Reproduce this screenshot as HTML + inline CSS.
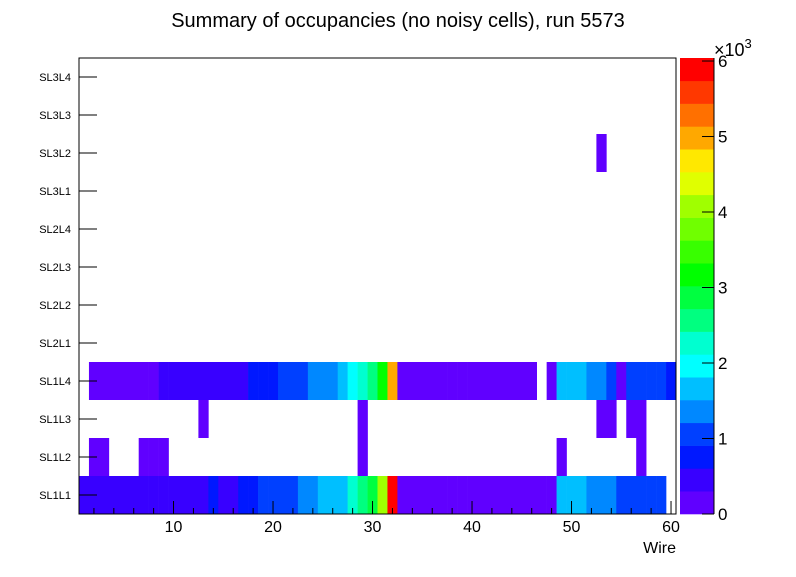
<!DOCTYPE html>
<html><head><meta charset="utf-8"><style>
body{margin:0;background:#fff;}
svg text{font-family:"Liberation Sans",sans-serif;}
</style></head><body>
<svg id="c" width="796" height="572" xmlns="http://www.w3.org/2000/svg">
<rect width="796" height="572" fill="#fff"/>
<text x="398" y="27" font-size="20" text-anchor="middle">Summary of occupancies (no noisy cells), run 5573</text>
<g id="cells"></g>
<g id="axes"></g>
<g id="pal"></g>
</svg>
<script>
const rowLabels=["SL1L1","SL1L2","SL1L3","SL1L4","SL2L1","SL2L2","SL2L3","SL2L4","SL3L1","SL3L2","SL3L3","SL3L4"];
const xTicks=[10,20,30,40,50,60];
const zTicks=[0,1,2,3,4,5,6];
const sl1l1=[500,500,500,500,500,500,500,500,500,500,500,500,500,800,500,500,800,800,1100,1100,1100,1100,1400,1400,1700,1700,1700,2300,2600,2900,4050,5900,200,200,200,200,200,200,200,200,200,200,200,200,200,200,200,200,1700,1700,1700,1400,1400,1400,1100,1100,1100,1100,1100,0];
const sl1l2=[0,200,200,0,0,0,200,200,200,0,0,0,0,0,0,0,0,0,0,0,0,0,0,0,0,0,0,0,200,0,0,0,0,0,0,0,0,0,0,0,0,0,0,0,0,0,0,0,200,0,0,0,0,0,0,0,200,0,0,0];
const sl1l3=[0,0,0,0,0,0,0,0,0,0,0,0,200,0,0,0,0,0,0,0,0,0,0,0,0,0,0,0,200,0,0,0,0,0,0,0,0,0,0,0,0,0,0,0,0,0,0,0,0,0,0,0,200,200,0,200,200,0,0,0];
const sl1l4=[0,200,200,200,200,200,200,200,500,500,500,500,500,500,500,500,500,800,800,800,1100,1100,1100,1400,1400,1400,1700,2000,2300,2600,3200,5000,200,200,200,200,200,200,200,200,200,200,200,200,200,200,0,200,1700,1700,1700,1400,1400,1100,200,1100,1100,1100,1100,800];
const sl3l2=[0,0,0,0,0,0,0,0,0,0,0,0,0,0,0,0,0,0,0,0,0,0,0,0,0,0,0,0,0,0,0,0,0,0,0,0,0,0,0,0,0,0,0,0,0,0,0,0,0,0,0,0,200,0,0,0,0,0,0,0];
const rowData={SL1L1:sl1l1,SL1L2:sl1l2,SL1L3:sl1l3,SL1L4:sl1l4,SL3L2:sl3l2};
const palette=["#6000ff","#3800ff","#0018ff","#0040ff","#0088ff","#00bfff","#00ffff","#00ffd0","#00ff80","#00ff40","#00ff00","#38ff00","#70ff00","#a0ff00","#e0ff00","#ffe800","#ffa800","#ff7000","#ff3800","#ff0000"];
const zMax=6040;
const X0=79,X1=676,Y0=58,Y1=514,xMin=0.5,xMax=60.5;
const NS="http://www.w3.org/2000/svg";
function xs(v){return X0+(v-xMin)/(xMax-xMin)*(X1-X0);}
function ys(i){return Y1-i*(Y1-Y0)/rowLabels.length;}
function zs(v){return Y1-v/zMax*(Y1-Y0);}
function mk(t,a,p){const e=document.createElementNS(NS,t);for(const k in a)e.setAttribute(k,a[k]);p.appendChild(e);return e;}
const cells=document.getElementById('cells'),axes=document.getElementById('axes'),pal=document.getElementById('pal');
rowLabels.forEach((lab,ri)=>{
  const d=rowData[lab];if(!d)return;
  d.forEach((v,wi)=>{
    if(v<=0)return;
    const lvl=Math.min(palette.length-1,Math.floor(v/zMax*palette.length));
    const w=wi+1;
    const r=mk('rect',{x:xs(w-0.5),y:ys(ri+1),width:xs(w+0.5)-xs(w-0.5)+0.3,height:ys(ri)-ys(ri+1),fill:palette[lvl]},cells);
    
    
  });
});
const fr=mk('rect',{x:X0,y:Y0,width:X1-X0,height:Y1-Y0,fill:'none',stroke:'#000','stroke-width':1},axes);


rowLabels.forEach((lab,ri)=>{
  const yc=(ys(ri)+ys(ri+1))/2;
  mk('line',{x1:X0,x2:X0+18,y1:yc,y2:yc,stroke:'#000'},axes);
  const t=mk('text',{x:71,y:yc+4,'font-size':11,'text-anchor':'end'},axes);
  t.textContent=lab;
  
  
});
for(let w=2;w<=60;w+=2){
  const major=xTicks.includes(w);
  mk('line',{x1:xs(w),x2:xs(w),y1:Y1,y2:Y1-(major?13:6),stroke:'#000'},axes);
}
xTicks.forEach(v=>{
  const t=mk('text',{x:xs(v),y:532,'font-size':16,'text-anchor':'middle'},axes);
  t.textContent=v;
  
  
});
const xt=mk('text',{x:676,y:553,'font-size':16,'text-anchor':'end'},axes);
xt.textContent='Wire';


palette.forEach((c,i)=>{
  const r=mk('rect',{x:680,y:zs((i+1)*zMax/palette.length),width:34,height:zs(i*zMax/palette.length)-zs((i+1)*zMax/palette.length)+0.3,fill:c},pal);
  
  
});
mk('line',{x1:714,x2:714,y1:Y0,y2:Y1,stroke:'#000'},pal);
zTicks.forEach(v=>{
  const y=zs(v*1000);
  mk('line',{x1:702,x2:714,y1:y,y2:y,stroke:'#000'},pal);
  const t=mk('text',{x:718,y:y+6,'font-size':17},pal);
  t.textContent=v;
  
  
});
const mult=mk('text',{x:714,y:56,'font-size':18},pal);
mult.innerHTML='×10<tspan dy="-8" font-size="13">3</tspan>';


</script>
</body></html>
